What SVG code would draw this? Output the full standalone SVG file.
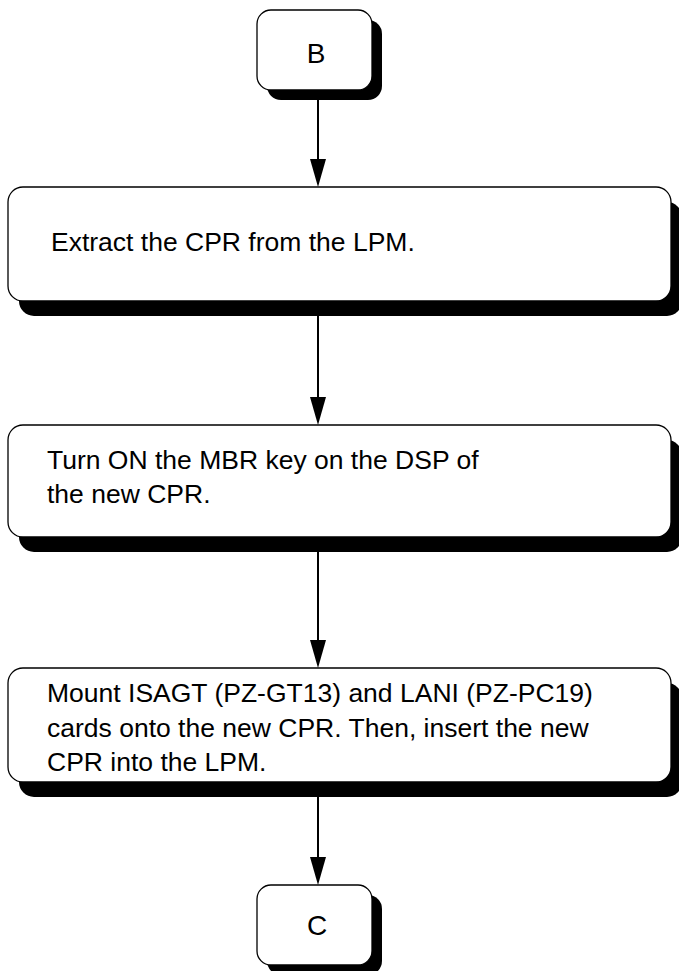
<svg xmlns="http://www.w3.org/2000/svg" width="679" height="971" viewBox="0 0 679 971">
<style>
.box{fill:#fff;stroke:#000;stroke-width:1.3}
.sh{fill:#000;stroke:none}
.t{font-family:"Liberation Sans",Arial,Helvetica,sans-serif;font-size:26.5px;fill:#000}
.ln{stroke:#000;stroke-width:2;fill:none}
</style>
<g id="connectors">
<line class="ln" x1="318" y1="100" x2="318" y2="160"/>
<path d="M310,159 L326,159 L318,187 Z" fill="#000"/>
<line class="ln" x1="318" y1="316" x2="318" y2="398"/>
<path d="M310,397 L326,397 L318,425 Z" fill="#000"/>
<line class="ln" x1="318" y1="552" x2="318" y2="641"/>
<path d="M310,640 L326,640 L318,668 Z" fill="#000"/>
<line class="ln" x1="318" y1="797" x2="318" y2="858"/>
<path d="M310,857 L326,857 L318,885 Z" fill="#000"/>
</g>
<g id="nodeB">
<rect class="sh" x="267" y="20" width="115" height="80" rx="14"/>
<rect class="box" x="257" y="10" width="115" height="80" rx="14"/>
<text class="t" x="316" y="63" text-anchor="middle" style="font-size:28px">B</text>
</g>
<g id="node1">
<rect class="sh" x="19" y="202" width="663" height="114" rx="15"/>
<rect class="box" x="8" y="187" width="663" height="114" rx="15"/>
<text class="t" x="51" y="251">Extract the CPR from the LPM.</text>
</g>
<g id="node2">
<rect class="sh" x="19" y="440" width="663" height="112" rx="15"/>
<rect class="box" x="8" y="425" width="663" height="112" rx="15"/>
<text class="t" x="47" y="469">Turn ON the MBR key on the DSP of</text>
<text class="t" x="47" y="503">the new CPR.</text>
</g>
<g id="node3">
<rect class="sh" x="19" y="683" width="663" height="114" rx="15"/>
<rect class="box" x="8" y="668" width="663" height="114" rx="15"/>
<text class="t" x="47" y="702">Mount ISAGT (PZ-GT13) and LANI (PZ-PC19)</text>
<text class="t" x="47" y="737">cards onto the new CPR. Then, insert the new</text>
<text class="t" x="47" y="771">CPR into the LPM.</text>
</g>
<g id="nodeC">
<rect class="sh" x="267" y="895" width="115" height="80" rx="14"/>
<rect class="box" x="257" y="885" width="115" height="80" rx="14"/>
<text class="t" x="317" y="935" text-anchor="middle" style="font-size:28px">C</text>
</g>
</svg>
